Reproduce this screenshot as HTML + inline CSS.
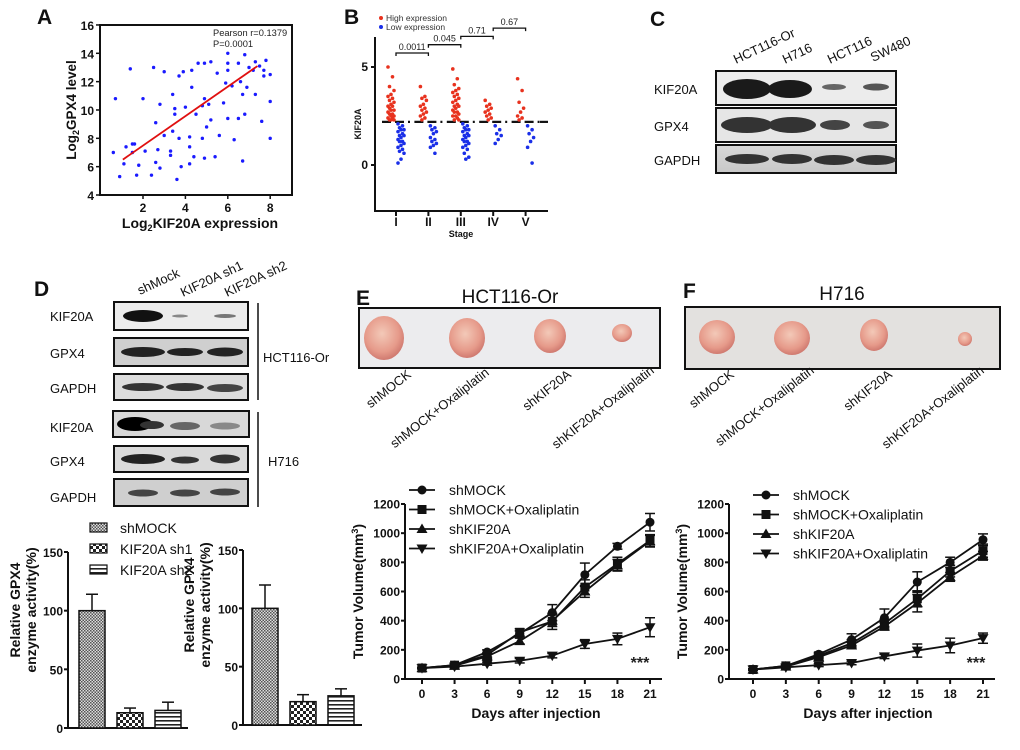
<!DOCTYPE html>
<html><head><meta charset="utf-8">
<style>
html,body{margin:0;padding:0;background:#fff;}
svg{display:block;font-family:"Liberation Sans",Arial,sans-serif;}
.tk{font-size:12px;font-weight:bold;fill:#111;}
.ax{stroke:#111;stroke-width:2;fill:none;}
.lbl{font-size:13px;fill:#111;}
.pl{font-size:21px;font-weight:bold;fill:#111;}
</style></head>
<body>
<svg id="fig" width="1020" height="750" viewBox="0 0 1020 750" xmlns="http://www.w3.org/2000/svg">
<defs>
 <pattern id="pDense" width="3" height="3" patternUnits="userSpaceOnUse"><rect width="3" height="3" fill="#ddd"/><rect width="1.5" height="1.5" fill="#555"/><rect x="1.5" y="1.5" width="1.5" height="1.5" fill="#555"/></pattern>
 <pattern id="pCheck" width="6" height="6" patternUnits="userSpaceOnUse"><rect width="6" height="6" fill="#fff"/><rect width="3" height="3" fill="#222"/><rect x="3" y="3" width="3" height="3" fill="#222"/></pattern>
 <pattern id="pHoriz" width="4" height="4" patternUnits="userSpaceOnUse"><rect width="4" height="4" fill="#fff"/><rect y="0" width="4" height="1.6" fill="#222"/></pattern>
 <radialGradient id="tum" cx="45%" cy="40%" r="60%"><stop offset="0" stop-color="#f3c9b8"/><stop offset="0.7" stop-color="#e69a8a"/><stop offset="1" stop-color="#d07a70"/></radialGradient>
 <linearGradient id="blotbg" x1="0" x2="0" y1="0" y2="1"><stop offset="0" stop-color="#d8d8d8"/><stop offset="1" stop-color="#c8c8c8"/></linearGradient>
</defs>

<text class="pl" x="37" y="24">A</text>
<text class="pl" x="344" y="24">B</text>
<text class="pl" x="650" y="26">C</text>
<text class="pl" x="34" y="296">D</text>
<text class="pl" x="356" y="305">E</text>
<text class="pl" x="683" y="298">F</text>

<g id="panelA"></g>
<g id="panelB"></g>

<g>
 <text class="lbl" font-size="14" transform="translate(736,64) rotate(-25)">HCT116-Or</text>
 <text class="lbl" font-size="14" transform="translate(785,64) rotate(-25)">H716</text>
 <text class="lbl" font-size="14" transform="translate(830,64) rotate(-25)">HCT116</text>
 <text class="lbl" font-size="14" transform="translate(873,62) rotate(-25)">SW480</text>
 <text class="lbl" font-size="14" x="654" y="94">KIF20A</text>
 <text class="lbl" font-size="14" x="654" y="131">GPX4</text>
 <text class="lbl" font-size="14" x="654" y="165">GAPDH</text>
 <rect x="716" y="71" width="180" height="34" fill="#ececec" stroke="#111" stroke-width="2"/>
 <rect x="716" y="108" width="180" height="34" fill="#e6e6e6" stroke="#111" stroke-width="2"/>
 <rect x="716" y="145" width="180" height="28" fill="url(#blotbg)" stroke="#111" stroke-width="2"/>
 <ellipse cx="747" cy="89" rx="24" ry="10" fill="#1a1a1a"/><ellipse cx="790" cy="89" rx="22" ry="9" fill="#1a1a1a"/>
 <ellipse cx="834" cy="87" rx="12" ry="3" fill="#666"/><ellipse cx="876" cy="87" rx="13" ry="3.5" fill="#555"/>
 <ellipse cx="747" cy="125" rx="26" ry="8" fill="#333"/><ellipse cx="792" cy="125" rx="24" ry="8" fill="#333"/>
 <ellipse cx="835" cy="125" rx="15" ry="5" fill="#444"/><ellipse cx="876" cy="125" rx="13" ry="4" fill="#555"/>
 <ellipse cx="747" cy="159" rx="22" ry="5" fill="#333"/><ellipse cx="792" cy="159" rx="20" ry="5" fill="#333"/>
 <ellipse cx="834" cy="160" rx="20" ry="5" fill="#333"/><ellipse cx="876" cy="160" rx="20" ry="5" fill="#333"/>
</g>

<g>
 <text class="lbl" font-size="14" transform="translate(140,295) rotate(-25)">shMock</text>
 <text class="lbl" font-size="14" transform="translate(183,297) rotate(-25)">KIF20A sh1</text>
 <text class="lbl" font-size="14" transform="translate(227,297) rotate(-25)">KIF20A sh2</text>
 <text class="lbl" font-size="14" x="50" y="321">KIF20A</text>
 <text class="lbl" font-size="14" x="50" y="358">GPX4</text>
 <text class="lbl" font-size="14" x="50" y="393">GAPDH</text>
 <text class="lbl" font-size="14" x="50" y="432">KIF20A</text>
 <text class="lbl" font-size="14" x="50" y="466">GPX4</text>
 <text class="lbl" font-size="14" x="50" y="502">GAPDH</text>
 <rect x="114" y="302" width="134" height="28" fill="#ececec" stroke="#111" stroke-width="2"/>
 <rect x="114" y="338" width="134" height="28" fill="#cfcfcf" stroke="#111" stroke-width="2"/>
 <rect x="114" y="374" width="134" height="26" fill="#dcdcdc" stroke="#111" stroke-width="2"/>
 <rect x="113" y="411" width="136" height="26" fill="#d8d8d8" stroke="#111" stroke-width="2"/>
 <rect x="114" y="446" width="134" height="26" fill="#dadada" stroke="#111" stroke-width="2"/>
 <rect x="114" y="479" width="134" height="27" fill="#cfcfcf" stroke="#111" stroke-width="2"/>
 <ellipse cx="143" cy="316" rx="20" ry="6" fill="#111"/><ellipse cx="180" cy="316" rx="8" ry="1.5" fill="#888"/><ellipse cx="225" cy="316" rx="11" ry="2" fill="#777"/>
 <ellipse cx="143" cy="352" rx="22" ry="5" fill="#222"/><ellipse cx="185" cy="352" rx="18" ry="4" fill="#222"/><ellipse cx="225" cy="352" rx="18" ry="4.5" fill="#222"/>
 <ellipse cx="143" cy="387" rx="21" ry="4" fill="#333"/><ellipse cx="185" cy="387" rx="19" ry="4" fill="#333"/><ellipse cx="225" cy="388" rx="18" ry="4" fill="#444"/>
 <ellipse cx="135" cy="424" rx="18" ry="7" fill="#000"/><ellipse cx="152" cy="425" rx="12" ry="4" fill="#333"/><ellipse cx="185" cy="426" rx="15" ry="4" fill="#666"/><ellipse cx="225" cy="426" rx="15" ry="3.5" fill="#888"/>
 <ellipse cx="143" cy="459" rx="22" ry="5" fill="#222"/><ellipse cx="185" cy="460" rx="14" ry="3.5" fill="#333"/><ellipse cx="225" cy="459" rx="15" ry="4.5" fill="#333"/>
 <ellipse cx="143" cy="493" rx="15" ry="3.5" fill="#444"/><ellipse cx="185" cy="493" rx="15" ry="3.5" fill="#444"/><ellipse cx="225" cy="492" rx="15" ry="3.5" fill="#444"/>
 <line x1="258" y1="303" x2="258" y2="400" stroke="#111" stroke-width="1.5"/>
 <line x1="258" y1="412" x2="258" y2="507" stroke="#111" stroke-width="1.5"/>
 <text class="lbl" font-size="14" x="263" y="362">HCT116-Or</text>
 <text class="lbl" font-size="14" x="268" y="466">H716</text>
</g>

<g id="panelD"></g>

<g>
 <text x="510" y="303" font-size="19" text-anchor="middle" fill="#111">HCT116-Or</text>
 <rect x="359" y="308" width="301" height="60" fill="#ececee" stroke="#111" stroke-width="2"/>
 <ellipse cx="384" cy="338" rx="20" ry="22" fill="url(#tum)"/>
 <ellipse cx="467" cy="338" rx="18" ry="20" fill="url(#tum)"/>
 <ellipse cx="550" cy="336" rx="16" ry="17" fill="url(#tum)"/>
 <ellipse cx="622" cy="333" rx="10" ry="9" fill="url(#tum)"/>
</g>
<g>
 <text x="842" y="300" font-size="19" text-anchor="middle" fill="#111">H716</text>
 <rect x="685" y="307" width="315" height="62" fill="#e3e1df" stroke="#111" stroke-width="2"/>
 <ellipse cx="717" cy="337" rx="18" ry="17" fill="url(#tum)"/>
 <ellipse cx="792" cy="338" rx="18" ry="17" fill="url(#tum)"/>
 <ellipse cx="874" cy="335" rx="14" ry="16" fill="url(#tum)"/>
 <ellipse cx="965" cy="339" rx="7" ry="7" fill="url(#tum)"/>
</g>
<g class="lbl">
 <text text-anchor="end" transform="translate(412,376) rotate(-38)">shMOCK</text>
 <text text-anchor="end" transform="translate(490,374) rotate(-38)">shMOCK+Oxaliplatin</text>
 <text text-anchor="end" transform="translate(572,376) rotate(-38)">shKIF20A</text>
 <text text-anchor="end" transform="translate(655,372) rotate(-38)">shKIF20A+Oxaliplatin</text>
 <text text-anchor="end" transform="translate(735,376) rotate(-38)">shMOCK</text>
 <text text-anchor="end" transform="translate(815,372) rotate(-38)">shMOCK+Oxaliplatin</text>
 <text text-anchor="end" transform="translate(893,376) rotate(-38)">shKIF20A</text>
 <text text-anchor="end" transform="translate(985,372) rotate(-38)">shKIF20A+Oxaliplatin</text>
</g>

<g id="panelE"></g>
<g id="panelF"></g>
</svg>

<script>
const aX = [0.7,0.6,0.9,1.1,1.2,1.4,1.5,1.6,1.5,1.7,1.8,2.0,2.1,2.4,2.5,2.6,2.6,2.7,2.8,2.8,3.0,3.0,3.3,3.3,3.4,3.4,3.5,3.5,3.6,3.7,3.7,3.8,3.9,4.0,4.2,4.2,4.2,4.3,4.3,4.4,4.5,4.6,4.8,4.8,4.9,4.9,4.9,5.0,5.1,5.2,5.2,5.4,5.5,5.6,5.8,5.9,6.0,6.0,6.0,6.0,6.2,6.3,6.5,6.5,6.6,6.7,6.7,6.8,6.8,6.9,7.0,7.2,7.3,7.3,7.5,7.6,7.7,7.7,7.8,8.0,8.0,8.0];
const aY = [10.8,7.0,5.3,6.2,7.4,12.9,7.6,7.6,7.0,5.4,6.1,10.8,7.1,5.4,13.0,6.3,9.1,7.2,10.4,5.9,12.7,8.2,6.8,7.1,11.1,8.5,10.1,9.7,5.1,12.4,8.0,6.0,12.7,10.2,7.4,8.1,6.2,12.8,11.6,6.7,9.7,13.3,10.3,8.0,6.6,13.3,10.8,8.8,10.4,13.4,9.3,6.7,12.6,8.2,10.5,11.9,14.0,12.8,9.4,13.3,11.7,7.9,13.3,9.4,12.0,6.4,11.1,9.7,13.9,11.6,13.0,12.8,13.4,11.1,13.1,9.2,12.8,12.4,13.5,12.5,10.6,8.0];
const aFitX = [1.05, 7.4];
const aFitY = [6.5, 13.1];
const aXTicks = [2,4,6,8];
const aYTicks = [4,6,8,10,12,14,16];

const bStages = ["I","II","III","IV","V"];
const bHigh = [
 [5.0,4.5,4.0,3.8,3.6,3.5,3.4,3.3,3.2,3.1,3.0,3.0,2.9,2.8,2.8,2.7,2.6,2.6,2.5,2.5,2.4,2.4,2.3,2.3,2.3],
 [4.0,3.5,3.4,3.3,3.1,3.0,2.9,2.8,2.7,2.6,2.5,2.4,2.3],
 [4.9,4.4,4.1,3.9,3.8,3.7,3.6,3.5,3.4,3.3,3.2,3.1,3.0,3.0,2.9,2.8,2.7,2.7,2.6,2.5,2.5,2.4,2.3,2.3],
 [3.3,3.1,3.0,2.9,2.8,2.7,2.6,2.5,2.4,2.3],
 [4.4,3.8,3.2,2.9,2.7,2.5,2.4,2.3]];
const bLow = [
 [2.1,2.0,1.9,1.8,1.8,1.7,1.6,1.5,1.5,1.4,1.3,1.2,1.2,1.1,1.0,0.9,0.8,0.7,0.6,0.3,0.1],
 [2.0,1.9,1.8,1.7,1.6,1.4,1.3,1.2,1.1,1.0,0.9,0.6],
 [2.1,2.0,1.9,1.8,1.8,1.7,1.6,1.5,1.5,1.4,1.3,1.2,1.2,1.1,1.0,0.9,0.8,0.6,0.4,0.3],
 [2.0,1.8,1.6,1.5,1.3,1.1],
 [2.0,1.8,1.6,1.4,1.2,0.9,0.1]];
const bCutoff = 2.2;
const bPvals = ["0.0011","0.045","0.71","0.67"];
const bYTicks = [0,5];

const dGroups = ["shMOCK","KIF20A sh1","KIF20A sh2"];
const d1Vals = [100,13,15];
const d1Err = [14,4,7];
const d2Vals = [100,20,25];
const d2Err = [20,6,6];
const dYTicks = [0,50,100,150];

const days = [0,3,6,9,12,15,18,21];
const seriesNames = ["shMOCK","shMOCK+Oxaliplatin","shKIF20A","shKIF20A+Oxaliplatin"];
const eMock = [75,95,185,310,455,715,910,1075];
const eMockOx = [75,95,165,320,395,630,790,950];
const eKif = [75,90,155,260,400,600,780,945];
const eKifOx = [75,85,105,125,160,240,275,355];
const eErr = [[5,8,15,20,55,80,20,60],[5,8,15,25,55,50,45,40],[5,8,15,20,40,40,40,40],[5,8,10,15,15,30,40,65]];
const fMock = [65,90,170,270,420,665,800,955];
const fMockOx = [65,90,160,245,380,550,740,880];
const fKif = [65,85,150,230,360,520,700,845];
const fKifOx = [65,80,95,110,155,195,230,280];
const fErr = [[5,8,12,40,60,70,35,40],[5,8,12,25,30,55,40,45],[5,8,12,20,25,60,30,30],[5,8,10,12,15,45,50,35]];
const gYTicks = [0,200,400,600,800,1000,1200];

const NS = "http://www.w3.org/2000/svg";
function mk(parent, tag, attrs, txt){
  const el = document.createElementNS(NS, tag);
  for (const k in attrs) el.setAttribute(k, attrs[k]);
  if (txt !== undefined) el.textContent = txt;
  parent.appendChild(el);
  return el;
}

(function(){
  const g = document.getElementById('panelA');
  const sx = v => 100.6 + v*21.2;
  const sy = v => 195 - (v-4)*14.17;
  const box = mk(g,'path',{d:'M100,25 H292 V195 H100 Z',class:'ax','stroke-width':1.5});
  
  
  aYTicks.forEach(t=>{
    mk(g,'line',{x1:96,x2:100,y1:sy(t),y2:sy(t),stroke:'#111','stroke-width':1.5});
    const tx = mk(g,'text',{x:94,y:sy(t)+5,'text-anchor':'end',class:'tk','font-size':13},t);
    
    
  });
  aXTicks.forEach(t=>{
    mk(g,'line',{x1:sx(t),x2:sx(t),y1:195,y2:199,stroke:'#111','stroke-width':1.5});
    const tx = mk(g,'text',{x:sx(t),y:212,'text-anchor':'middle',class:'tk','font-size':13},t);
    
    
  });
  aX.forEach((x,i)=>{
    const c = mk(g,'circle',{cx:sx(x),cy:sy(aY[i]),r:1.7,fill:'#1a1aff'});
    
    
  });
  const fl = mk(g,'line',{x1:sx(aFitX[0]),y1:sy(aFitY[0]),x2:sx(aFitX[1]),y2:sy(aFitY[1]),stroke:'#e01010','stroke-width':1.8});
  
  
  const t1 = mk(g,'text',{x:213,y:36,'font-size':9.3,fill:'#222'},'Pearson r=0.1379');
  
  
  const t2 = mk(g,'text',{x:213,y:47,'font-size':9.3,fill:'#222'},'P=0.0001');
  
  
  const xt = mk(g,'text',{x:200,y:228,'text-anchor':'middle','font-size':14,'font-weight':'bold',fill:'#111'});
  xt.innerHTML = 'Log<tspan font-size="9" dy="3">2</tspan><tspan dy="-3">KIF20A expression</tspan>';
  
  
  const yt = mk(g,'text',{transform:'translate(76,110) rotate(-90)','text-anchor':'middle','font-size':13.5,'font-weight':'bold',fill:'#111'});
  yt.innerHTML = 'Log<tspan font-size="9" dy="3">2</tspan><tspan dy="-3">GPX4 level</tspan>';
  
  
})();

(function(){
  const g = document.getElementById('panelB');
  const sy = v => 165 - v*19.6;
  const tickX = i => 396 + i*32.4;
  mk(g,'path',{d:'M375,37 V211 H548',class:'ax','stroke-width':2});
  bYTicks.forEach(t=>{
    mk(g,'line',{x1:371,x2:375,y1:sy(t),y2:sy(t),stroke:'#111','stroke-width':2});
    const tx = mk(g,'text',{x:368,y:sy(t)+4,'text-anchor':'end',class:'tk','font-size':10},t);
    
    
  });
  bStages.forEach((s,i)=>{
    mk(g,'line',{x1:tickX(i),x2:tickX(i),y1:211,y2:216,stroke:'#111','stroke-width':2});
    const tx = mk(g,'text',{x:tickX(i),y:226,'text-anchor':'middle',class:'tk','font-size':9},s);
    
    
    mk(g,'line',{x1:tickX(i)-14,x2:tickX(i)+14,y1:sy(bCutoff),y2:sy(bCutoff),stroke:'#111','stroke-width':2.2,'stroke-dasharray':'9,4'});
    bHigh[i].forEach((v,j)=>{
      const c = mk(g,'circle',{cx:tickX(i)-5+((j*3)%5-2)*1.5,cy:sy(v),r:1.8,fill:'#e8321e'});
      
      
    });
    bLow[i].forEach((v,j)=>{
      const c = mk(g,'circle',{cx:tickX(i)+5+((j*3)%5-2)*1.5,cy:sy(v),r:1.8,fill:'#1a2fe8'});
      
      
    });
  });
  mk(g,'line',{x1:540,x2:548,y1:sy(bCutoff),y2:sy(bCutoff),stroke:'#111','stroke-width':2.2});
  bPvals.forEach((p,i)=>{
    const y = 53 - i*8.3;
    mk(g,'path',{d:`M${tickX(i)},${y+3} V${y} H${tickX(i+1)} V${y+3}`,stroke:'#111','stroke-width':1.3,fill:'none'});
    const tx = mk(g,'text',{x:(tickX(i)+tickX(i+1))/2,y:y-3,'text-anchor':'middle','font-size':9,fill:'#222'},p);
    
    
  });
  mk(g,'circle',{cx:381,cy:18,r:2,fill:'#e8321e'});
  const l1 = mk(g,'text',{x:386,y:21,'font-size':8.5,fill:'#333'},'High expression');
  
  
  mk(g,'circle',{cx:381,cy:27,r:2,fill:'#1a2fe8'});
  const l2 = mk(g,'text',{x:386,y:30,'font-size':8.5,fill:'#333'},'Low expression');
  
  
  const yt = mk(g,'text',{transform:'translate(361,124) rotate(-90)','text-anchor':'middle','font-size':9,'font-weight':'bold',fill:'#111'},'KIF20A');
  
  
  const xt = mk(g,'text',{x:461,y:237,'text-anchor':'middle','font-size':9,'font-weight':'bold',fill:'#111'},'Stage');
  
  
})();

(function(){
  const g = document.getElementById('panelD');
  const fills = ['url(#pDense)','url(#pCheck)','url(#pHoriz)'];
  function chart(ax, y0, y150, xEnd, barX, vals, errs, name){
    const sy = v => y0 - v*(y0-y150)/150;
    const sub = mk(g,'g',{});
    
    
    mk(sub,'path',{d:`M${ax},${y150} V${y0} H${xEnd}`,class:'ax'});
    dYTicks.forEach(t=>{
      mk(sub,'line',{x1:ax-4,x2:ax,y1:sy(t),y2:sy(t),stroke:'#111','stroke-width':2});
      const tx = mk(sub,'text',{x:ax-5,y:sy(t)+5,'text-anchor':'end',class:'tk','font-size':12},t);
      
      
    });
    vals.forEach((v,i)=>{
      const x = barX + i*38, w = 26;
      mk(sub,'line',{x1:x+w/2,x2:x+w/2,y1:sy(v),y2:sy(v+errs[i]),stroke:'#111','stroke-width':1.5});
      mk(sub,'line',{x1:x+w/2-6,x2:x+w/2+6,y1:sy(v+errs[i]),y2:sy(v+errs[i]),stroke:'#111','stroke-width':1.5});
      const r = mk(sub,'rect',{x:x,y:sy(v),width:w,height:y0-sy(v),fill:fills[i],stroke:'#111','stroke-width':1.5});
      
      
    });
  }
  chart(68,728,552,188,79,d1Vals,d1Err,'gpx4-activity-hct116');
  chart(243,725,550,362,252,d2Vals,d2Err,'gpx4-activity-h716');
  [[12,610],[186,605]].forEach((p,k)=>{
    const t = mk(g,'text',{transform:`translate(${p[0]+8},${p[1]}) rotate(-90)`,'text-anchor':'middle','font-size':14,'font-weight':'bold',fill:'#111'},'Relative GPX4');
    
    
    const t2 = mk(g,'text',{transform:`translate(${p[0]+24},${p[1]}) rotate(-90)`,'text-anchor':'middle','font-size':14,'font-weight':'bold',fill:'#111'},'enzyme activity(%)');
    
    
  });
  dGroups.forEach((n,i)=>{
    const y = 530 + i*21;
    mk(g,'rect',{x:90,y:y-7,width:17,height:9,fill:fills[i],stroke:'#111','stroke-width':1.2});
    const t = mk(g,'text',{x:120,y:y+3,'font-size':14,fill:'#111'},n);
    
    
  });
})();

function marker(g, shape, x, y){
  if (shape===0) return mk(g,'circle',{cx:x,cy:y,r:4.5,fill:'#111'});
  if (shape===1) return mk(g,'rect',{x:x-4.5,y:y-4.5,width:9,height:9,fill:'#111'});
  if (shape===2) return mk(g,'path',{d:`M${x},${y-5.5} L${x+5.5},${y+4} L${x-5.5},${y+4} Z`,fill:'#111'});
  return mk(g,'path',{d:`M${x},${y+5.5} L${x+5.5},${y-4} L${x-5.5},${y-4} Z`,fill:'#111'});
}
function growth(id, ax, x0, x21, series, errs, legX, legY, starX){
  const g = document.getElementById(id);
  const sx = d => x0 + d*(x21-x0)/21;
  const sy = v => 679 - v*175/1200;
  mk(g,'path',{d:`M${ax},${sy(1200)} V679 H${x21+12}`,class:'ax'});
  gYTicks.forEach(t=>{
    mk(g,'line',{x1:ax-4,x2:ax,y1:sy(t),y2:sy(t),stroke:'#111','stroke-width':2});
    const tx = mk(g,'text',{x:ax-5,y:sy(t)+4.5,'text-anchor':'end',class:'tk','font-size':12.5},t);
    
    
  });
  days.forEach(d=>{
    mk(g,'line',{x1:sx(d),x2:sx(d),y1:679,y2:684,stroke:'#111','stroke-width':2});
    const tx = mk(g,'text',{x:sx(d),y:698,'text-anchor':'middle',class:'tk','font-size':12.5},d);
    
    
  });
  series.forEach((vals,s)=>{
    const sg = mk(g,'g',{});
    
    
    mk(sg,'polyline',{points:vals.map((v,i)=>sx(days[i])+','+sy(v)).join(' '),fill:'none',stroke:'#111','stroke-width':1.8});
    vals.forEach((v,i)=>{
      const e = errs[s][i], x = sx(days[i]);
      mk(sg,'line',{x1:x,x2:x,y1:sy(v-e),y2:sy(v+e),stroke:'#111','stroke-width':1.5});
      mk(sg,'line',{x1:x-5,x2:x+5,y1:sy(v+e),y2:sy(v+e),stroke:'#111','stroke-width':1.5});
      mk(sg,'line',{x1:x-5,x2:x+5,y1:sy(v-e),y2:sy(v-e),stroke:'#111','stroke-width':1.5});
      const m = marker(sg,s,x,sy(v));
      
      
    });
  });
  seriesNames.forEach((n,s)=>{
    const y = legY + s*19.5;
    mk(g,'line',{x1:legX-13,x2:legX+13,y1:y,y2:y,stroke:'#111','stroke-width':1.8});
    marker(g,s,legX,y);
    const t = mk(g,'text',{x:legX+27,y:y+5,'font-size':14,fill:'#111'},n);
    
    
  });
  const st = mk(g,'text',{x:starX,y:668,'text-anchor':'middle','font-size':16,'font-weight':'bold',fill:'#222'},'***');
  
  
  const yt = mk(g,'text',{transform:`translate(${ax-42},${sy(600)}) rotate(-90)`,'text-anchor':'middle','font-size':14,'font-weight':'bold',fill:'#111'});
  yt.innerHTML = 'Tumor Volume(mm<tspan font-size="9" dy="-5">3</tspan><tspan dy="5">)</tspan>';
  
  
  const xt = mk(g,'text',{x:(x0+x21)/2,y:718,'text-anchor':'middle','font-size':14,'font-weight':'bold',fill:'#111'},'Days after injection');
  
  
}
growth('panelE',405,422,650,[eMock,eMockOx,eKif,eKifOx],eErr,422,490,640);
growth('panelF',729,753,983,[fMock,fMockOx,fKif,fKifOx],fErr,766,495,976);
</script>
</body></html>
